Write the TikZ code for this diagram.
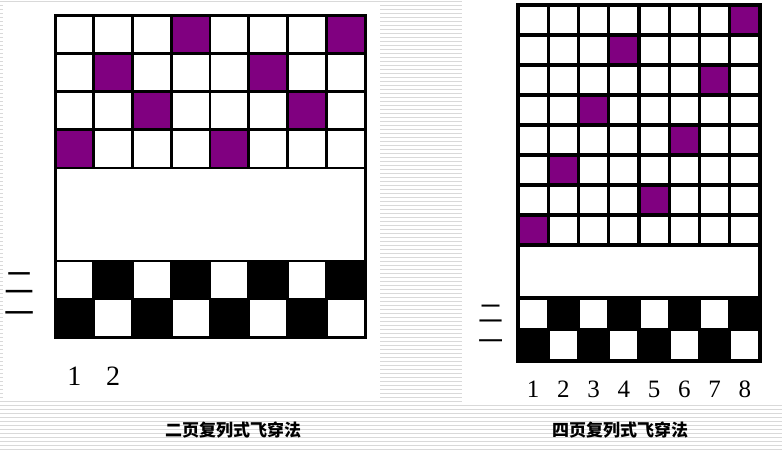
\documentclass[tikz,border=0pt]{standalone}
\usepackage{fontspec}
\setmainfont{Liberation Serif}
\newfontfamily\cjk{Noto Sans CJK SC}
\usetikzlibrary{positioning}

\definecolor{heddle}{HTML}{800080}
\definecolor{stripe}{HTML}{D9D9D9}

\tikzset{
  cell/.style={draw=black, line width=2.6pt, fill=white},
  threadcell/.style={draw=black, line width=2.6pt, fill=heddle},
  liftcell/.style={fill=black},
  frame/.style={draw=black, line width=3pt},
  colnum/.style={font=\fontsize{28}{28}\selectfont},
  pagelabel/.style={font=\cjk\fontsize{30}{30}\selectfont},
  caption/.style={font=\cjk\bfseries\fontsize{17}{17}\selectfont}
}

\begin{document}
\begin{tikzpicture}[x=1pt,y=-1pt]
  \useasboundingbox (0,0) rectangle (782,450);
  % slide background
  \fill[white] (0,0) rectangle (782,450);
  \foreach \y in {1,5,...,449}
    \draw[stripe, line width=1pt] (0,\y) -- (782,\y);
  \fill[white] (3,3) rectangle (380,398);
  \fill[white] (462,0) rectangle (782,405);

  % two-page draft
  \foreach \c in {0,...,7}
    \foreach \r in {0,...,3}
      \draw[cell] (55+\c*38.75,15+\r*38.25) rectangle +(38.75,38.25);
  \foreach \c/\r in {3/0,7/0,1/1,5/1,2/2,6/2,0/3,4/3}
    \draw[threadcell] (55+\c*38.75,15+\r*38.25) rectangle +(38.75,38.25);
  \draw[cell] (55,168) rectangle (365,261);
  \foreach \c in {0,...,7}
    \foreach \r in {0,1}
      \draw[cell] (55+\c*38.75,261+\r*38) rectangle +(38.75,38);
  \foreach \c in {1,3,5,7}
    \fill[liftcell] (55+\c*38.75,261) rectangle +(38.75,38);
  \foreach \c in {0,2,4,6}
    \fill[liftcell] (55+\c*38.75,299) rectangle +(38.75,38);
  \draw[frame] (55,15) rectangle (365,337);
  \node[pagelabel] (L2) at (20,283) {二};
  \node[pagelabel] (L1) at (20,318) {一};
  \node[colnum] (Ln1) at (74.4,376) {1};
  \node[colnum] (Ln2) at (113.1,376) {2};
  \node[caption] (Lcap) at (233,430) {二页复列式飞穿法};

  % four-page draft
  \begin{scope}[every path/.append style={line width=3.1pt}]
  \foreach \c in {0,...,7}
    \foreach \r in {0,...,7}
      \draw[cell, line width=3.1pt] (518+\c*30.25,5+\r*30) rectangle +(30.25,30);
  \foreach \c/\r in {7/0,3/1,6/2,2/3,5/4,1/5,4/6,0/7}
    \draw[threadcell, line width=3.1pt] (518+\c*30.25,5+\r*30) rectangle +(30.25,30);
  \draw[cell, line width=3.1pt] (518,245) rectangle (760,298);
  \foreach \c in {0,...,7}
    \foreach \r in {0,1}
      \draw[cell, line width=3.1pt] (518+\c*30.25,298+\r*31.5) rectangle +(30.25,31.5);
  \end{scope}
  \foreach \c in {1,3,5,7}
    \fill[liftcell] (518+\c*30.25,298) rectangle +(30.25,31.5);
  \foreach \c in {0,2,4,6}
    \fill[liftcell] (518+\c*30.25,329.5) rectangle +(30.25,31.5);
  \draw[frame] (518,5) rectangle (760,361);
  \node[pagelabel, font=\cjk\fontsize{25}{25}\selectfont] (R2) at (491,314) {二};
  \node[pagelabel, font=\cjk\fontsize{25}{25}\selectfont] (R1) at (491,345) {一};
  \foreach \i in {1,...,8}
    \node[colnum, font=\fontsize{25}{25}\selectfont] (Rn\i) at (518+\i*30.25-15.1,389) {\i};
  \node[caption] (Rcap) at (620,430) {四页复列式飞穿法};
\end{tikzpicture}
\end{document}
